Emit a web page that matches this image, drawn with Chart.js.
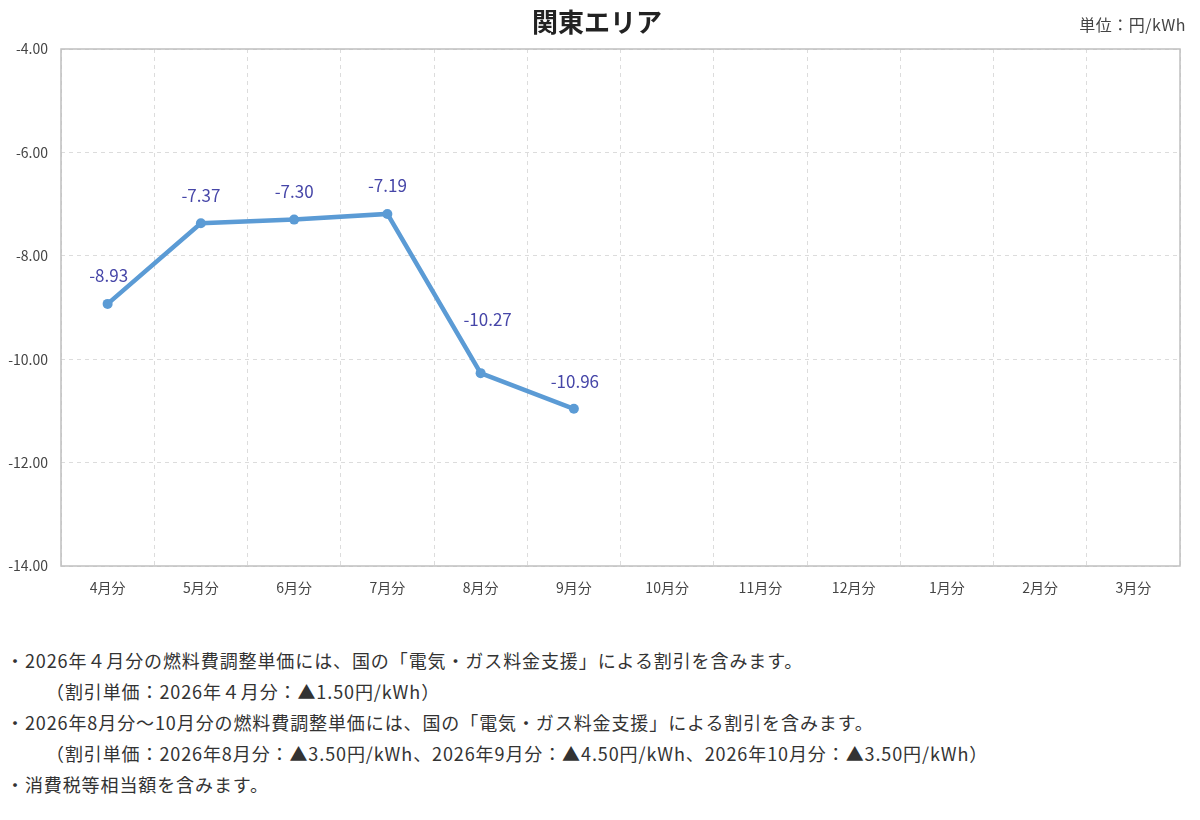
<!DOCTYPE html>
<html lang="ja">
<head>
  <meta charset="UTF-8">
  <title>関東エリア 燃料費調整単価</title>
  <style>
    body {
      margin: 0;
      padding: 0;
      background: #fff;
      font-family: "Noto Sans CJK JP", "Noto Sans", sans-serif;
      color: #333;
      width: 1200px;
      height: 820px;
      position: relative;
      overflow: hidden;
    }
    .title {
      position: absolute;
      top: 2px;
      left: 0;
      width: 1194px;
      text-align: center;
      font-size: 26px;
      font-weight: bold;
      color: #222;
    }
    .unit {
      position: absolute;
      top: 12px;
      right: 14px;
      font-size: 16px;
      letter-spacing: 0.5px;
      color: #444;
    }
    .chart-box {
      position: absolute;
      top: 0;
      left: 0;
      width: 1200px;
      height: 610px;
    }
    .notes {
      position: absolute;
      top: 645px;
      left: 6px;
      font-size: 18px;
      letter-spacing: 0.9px;
      line-height: 31px;
      color: #333;
    }
    .notes p {
      margin: 0;
      white-space: nowrap;
    }
    .notes .indent {
      padding-left: 40px;
    }
  </style>
</head>
<body>
  <div class="chart-box"><canvas id="chart"></canvas></div>
  <div class="title">関東エリア</div>
  <div class="unit">単位：円/kWh</div>

  <div class="notes">
    <p>・2026年４月分の燃料費調整単価には、国の「電気・ガス料金支援」による割引を含みます。</p>
    <p class="indent">（割引単価：2026年４月分：▲1.50円/kWh）</p>
    <p>・2026年8月分～10月分の燃料費調整単価には、国の「電気・ガス料金支援」による割引を含みます。</p>
    <p class="indent">（割引単価：2026年8月分：▲3.50円/kWh、2026年9月分：▲4.50円/kWh、2026年10月分：▲3.50円/kWh）</p>
    <p>・消費税等相当額を含みます。</p>
  </div>

  <script src="https://cdn.jsdelivr.net/npm/chart.js"></script>
  <script>
    // データ
    const months = ['4月分', '5月分', '6月分', '7月分', '8月分', '9月分',
                    '10月分', '11月分', '12月分', '1月分', '2月分', '3月分'];
    const unitPrice = [-8.93, -7.37, -7.30, -7.19, -10.27, -10.96,
                       null, null, null, null, null, null];
    const yMin = -14;
    const yMax = -4;
    const yStep = 2;

    const fontJP = '"Noto Sans CJK JP", "Noto Sans", sans-serif';

    // 値ラベルを点の上に描く
    const valueLabels = {
      id: 'valueLabels',
      afterDatasetsDraw(chart, args, opts) {
        const ctx = chart.ctx;
        const meta = chart.getDatasetMeta(0);
        ctx.save();
        ctx.font = '17px ' + fontJP;
        ctx.fillStyle = opts.color;
        ctx.textAlign = 'center';
        ctx.textBaseline = 'middle';
        meta.data.forEach((pt, i) => {
          const v = unitPrice[i];
          if (v === null) return;
          const lift = (opts.lift && opts.lift[i]) || 28;
          const dx = (opts.shift && opts.shift[i]) || 0;
          ctx.fillText(v.toFixed(2), pt.x + dx, pt.y - lift);
        });
        ctx.restore();
      }
    };

    // プロットエリアの枠線
    const plotFrame = {
      id: 'plotFrame',
      afterDraw(chart) {
        const a = chart.chartArea;
        const ctx = chart.ctx;
        ctx.save();
        ctx.strokeStyle = '#bfbfbf';
        ctx.lineWidth = 1.5;
        ctx.strokeRect(a.left, a.top, a.right - a.left, a.bottom - a.top);
        ctx.restore();
      }
    };

    new Chart(document.getElementById('chart'), {
      type: 'line',
      data: {
        labels: months,
        datasets: [{
          data: unitPrice,
          borderColor: '#5b9bd5',
          backgroundColor: '#5b9bd5',
          borderWidth: 4.5,
          pointRadius: 5,
          pointHoverRadius: 5,
          pointBorderWidth: 0,
          tension: 0,
          spanGaps: false
        }]
      },
      options: {
        responsive: true,
        maintainAspectRatio: false,
        animation: false,
        layout: { padding: { top: 49, right: 20, left: 0, bottom: 0 } },
        plugins: {
          legend: { display: false },
          tooltip: { enabled: false },
          valueLabels: {
            color: '#4646a8',
            lift: [28, 28, 28, 28, 54, 27],
            shift: [1, 0, 0, 0, 7, 1]
          }
        },
        scales: {
          x: {
            offset: true,
            grid: {
              offset: true,
              color: '#dcdcdc',
              drawTicks: false
            },
            border: { display: false, dash: [4, 4] },
            ticks: {
              color: '#444',
              font: { family: fontJP, size: 14 },
              padding: 13,
              maxRotation: 0,
              autoSkip: false
            },
            afterFit(scale) { scale.height = 44; }
          },
          y: {
            min: yMin,
            max: yMax,
            grid: {
              color: '#dcdcdc',
              drawTicks: false
            },
            border: { display: false, dash: [4, 4] },
            ticks: {
              stepSize: yStep,
              color: '#444',
              font: { family: fontJP, size: 14 },
              padding: 13,
              callback: v => v.toFixed(2)
            },
            afterFit(scale) { scale.width = 61; }
          }
        }
      },
      plugins: [valueLabels, plotFrame]
    });
  </script>
</body>
</html>
